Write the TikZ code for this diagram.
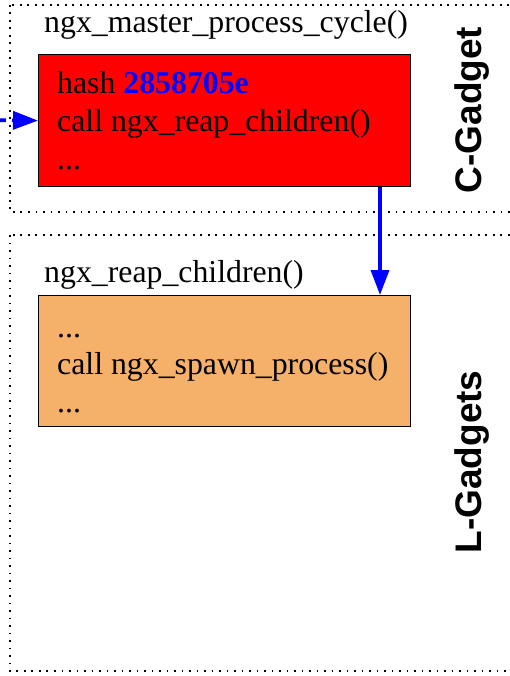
\documentclass[tikz,border=0pt]{standalone}
\usepackage{fontspec}
\setmainfont{Liberation Serif}
\newfontfamily\labelfont{Liberation Sans}
\usetikzlibrary{arrows.meta, positioning}
\definecolor{hashblue}{RGB}{0,0,255}
\definecolor{lgadgetfill}{RGB}{245,176,106}

\begin{document}
\begin{tikzpicture}[x=1pt, y=-1pt,
  >={Triangle[length=25pt,width=18pt]},
  groupbox/.style={draw, line width=1.8pt, dash pattern=on 1.8pt off 5.7pt},
  codebox/.style={draw, line width=1.2pt, minimum width=372pt, inner sep=0pt},
  codeline/.style={inner sep=0pt, font=\fontsize{31.8}{37}\selectfont},
  sidelabel/.style={rotate=90, inner sep=0pt, font=\labelfont\bfseries\fontsize{37}{40}\selectfont},
  flow/.style={draw=hashblue, line width=3.6pt, ->}]
  \useasboundingbox (0,0) rectangle (510,676);
  % Gadget groups
  \draw[groupbox] (10,5) rectangle (525,212);
  \draw[groupbox] (10,235) rectangle (525,671);
  \node[sidelabel] (clabel) at (472,110) {C-Gadget};
  \node[sidelabel] (llabel) at (472,462) {L-Gadgets};

  % C-Gadget: master cycle
  \node[codeline, anchor=base west] (mtitle) at (44,33) {ngx\_master\_process\_cycle()};
  \node[codebox, fill=red, minimum height=132pt, anchor=north west] (master) at (38,54) {};
  \node[codeline, anchor=base west] (m1) at (57,94)
    {hash \textcolor{hashblue}{\textbf{2858705e}}};
  \node[codeline, anchor=base west] (m2) at (57,132) {call ngx\_reap\_children()};
  \node[codeline, anchor=base west] (m3) at (57,170) {...};

  % L-Gadget: reap children
  \node[codeline, anchor=base west] (rtitle) at (44,282) {ngx\_reap\_children()};
  \node[codebox, fill=lgadgetfill, minimum height=131pt, anchor=north west] (reap) at (38,295) {};
  \node[codeline, anchor=base west] (r1) at (57,337) {...};
  \node[codeline, anchor=base west] (r2) at (57,374) {call ngx\_spawn\_process()};
  \node[codeline, anchor=base west] (r3) at (57,412) {...};

  % control flow
  \coordinate (entry) at (-20,120);
  \draw[flow, dash pattern=on 26pt off 6pt] (entry) -- (master.west);
  \draw[flow] (master.south -| 380,0) -- (reap.north -| 380,0);
\end{tikzpicture}
\end{document}
